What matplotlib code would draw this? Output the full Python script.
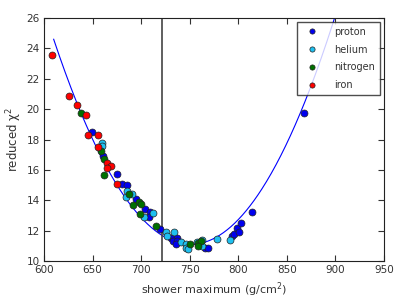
import numpy as np
from matplotlib import pyplot as plt

plt.rcParams['mathtext.default'] = 'regular'

# Xmax (g/cm^2) and reduced chi^2 per primary
proton_x = [649.1, 675.5, 680.0, 685.7, 694.4, 704.3, 708.8, 707.8, 719.4, 730.4,
            736.6, 733.1, 737.3, 735.9, 765.7, 769.1, 793.9, 795.9, 798.4, 801.0,
            802.8, 814.4, 867.6, 660.4]
proton_y = [18.47, 15.73, 15.09, 15.02, 14.06, 13.44, 13.25, 12.92, 12.13, 11.49,
            11.53, 11.34, 11.32, 11.14, 10.88, 10.88, 11.67, 11.78, 12.19, 11.93,
            12.48, 13.23, 19.74, 16.9]

helium_x = [659.7, 659.7, 685.1, 690.9, 684.1, 711.9, 702.6, 725.6, 733.8, 726.3,
            740.7, 745.8, 745.8, 748.6, 757.2, 762.3, 762.3, 777.8, 791.5]
helium_y = [17.8, 17.57, 14.63, 14.43, 14.23, 13.18, 12.92, 11.93, 11.93, 11.62,
            11.27, 11.14, 10.88, 10.77, 11.23, 11.36, 10.99, 11.45, 11.38]

nitrogen_x = [638.1, 658.7, 661.8, 661.8, 687.2, 697.5, 699.5, 691.3, 698.8, 715.0,
              750.3, 758.8, 761.3, 758.2]
nitrogen_y = [19.72, 17.24, 16.7, 15.64, 14.43, 13.9, 13.77, 13.69, 13.11, 12.32,
              11.14, 11.21, 11.34, 10.99]

iron_x = [608.2, 625.7, 634.3, 643.2, 645.6, 655.3, 655.3, 664.9, 669.3, 665.2,
          674.8]
iron_y = [23.56, 20.86, 20.26, 19.6, 18.3, 18.3, 17.52, 16.45, 16.27, 16.1,
          15.09]

# parabola fit: a*(x - x0)^2 + c
fit_a, fit_x0, fit_c = 0.000679, 751.0, 11.1
fit_range = (610, 905)
xmax_line = 721.5

fig = plt.figure(figsize=(4.07, 3.05), dpi=100)
ax = fig.add_axes([0.108, 0.144, 0.8355, 0.797])

xs = np.linspace(fit_range[0], fit_range[1], 300)
ax.plot(xs, fit_a * (xs - fit_x0) ** 2 + fit_c, color='#0000ff', lw=0.8, zorder=1)
ax.axvline(xmax_line, color='#444444', lw=1.2, zorder=1)

mk = dict(marker='o', linestyle='none', markersize=5, markeredgecolor='#222222',
          markeredgewidth=0.5, zorder=3)
ax.plot(proton_x, proton_y, color='#0000ee', label='proton', **mk)
ax.plot(helium_x, helium_y, color='#1ec0f0', label='helium', **mk)
ax.plot(nitrogen_x, nitrogen_y, color='#007000', label='nitrogen', **mk)
ax.plot(iron_x, iron_y, color='#ff0000', label='iron', **mk)

ax.set_xlim(600, 950)
ax.set_ylim(10, 26)
ax.set_xticks(range(600, 951, 50))
ax.set_yticks(range(10, 27, 2))
ax.tick_params(direction='in', top=True, right=True, labelsize=7.5, colors='#333333',
               length=4, pad=3)
for s in ax.spines.values():
    s.set_color('#222222')
ax.set_xlabel('shower maximum (g/cm$^2$)', fontsize=8, color='#333333')
ax.set_ylabel('reduced $\\chi^2$', fontsize=8.5, color='#333333', labelpad=2)
leg = ax.legend(loc='upper right', fontsize=7, numpoints=1, fancybox=False,
                markerscale=0.75, handletextpad=1.3, labelspacing=0.8,
                borderaxespad=0.4, borderpad=0.5)
leg.get_frame().set_edgecolor('#222222')
for t in leg.get_texts():
    t.set_color('#333333')

fig.savefig('out.png', dpi=100)
